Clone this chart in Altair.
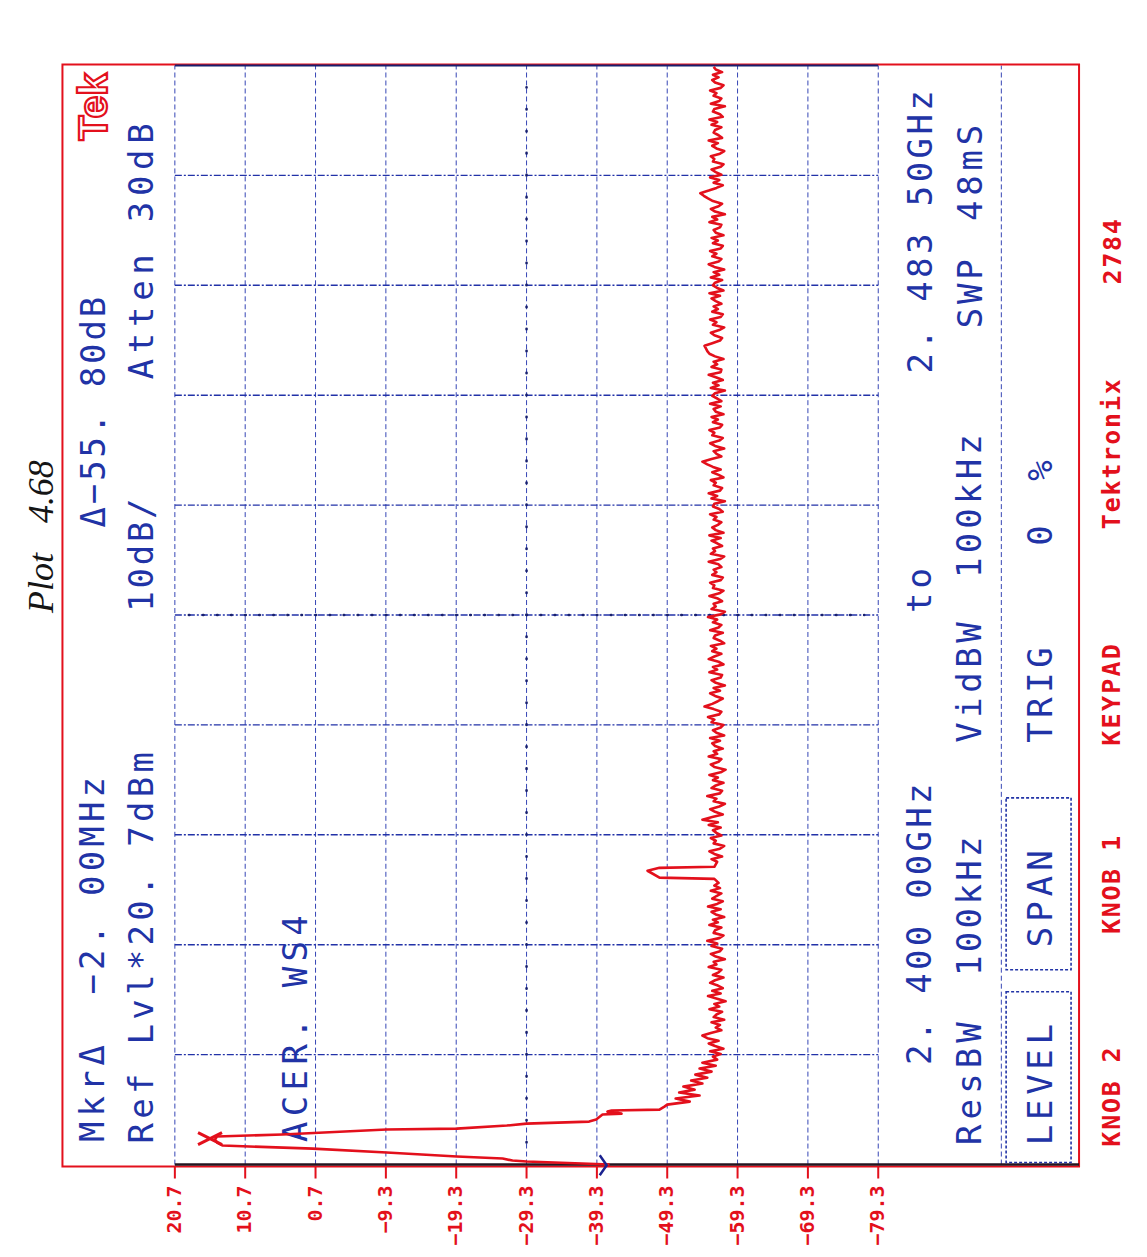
import altair as alt
import pandas as pd

# ---------------- data ----------------
DB_TICKS = [20.7, 10.7, 0.7, -9.3, -19.3, -29.3, -39.3, -49.3, -59.3, -69.3, -79.3]
FREQ_GRID = [2400.0, 2408.35, 2416.7, 2425.05, 2433.4, 2441.75, 2450.1, 2458.45, 2466.8, 2475.15, 2483.5]
SEPARATOR_DB = -96.8
CENTER_DB = -29.3
CENTER_FREQ = 2441.75

# carrier peak near 2.402 GHz (frequency MHz, level dBm)
PEAK_FREQ = [2400.00, 2400.23, 2400.30, 2400.46, 2400.61, 2400.91, 2401.21, 2401.44, 2401.67, 2401.90,
             2402.13, 2402.28, 2402.66, 2402.73, 2402.96, 2403.11, 2403.26, 2403.42, 2403.80, 2403.87,
             2404.02, 2404.10, 2404.17, 2404.40]
PEAK_DB = [-41.1, -29.3, -27.3, -25.9, -19.4, -9.4, 1.1, 13.9, 14.7, 15.0,
           14.7, 5.4, -9.4, -19.4, -26.5, -29.3, -38.2, -39.2, -40.1, -42.8,
           -40.8, -41.4, -48.2, -48.9]

# skirt settling into the noise floor
RAMP_FREQ = [2404.55, 2404.78, 2405.01, 2405.24, 2405.47, 2405.69, 2405.92, 2406.15,
             2406.38, 2406.60, 2406.83, 2407.06, 2407.29, 2407.51, 2407.74, 2407.97]
RAMP_DB = [-49.3, -52.5, -50.5, -53.9, -51.0, -53.2, -51.6, -54.3,
           -52.7, -55.0, -53.3, -55.6, -53.9, -56.2, -54.3, -56.4]

SWEEP_STEP = 0.2
NOISE_A_START = 2408.2
NOISE_A_DB = [-55.8, -56.9, -55.4, -57.3, -56.1, -55.2, -56.6, -55.0, -54.3, -55.5,
              -57.0, -56.2, -56.8, -55.6, -57.4, -55.9, -56.3, -57.1, -55.3, -56.7,
              -56.0, -57.6, -56.4, -55.1, -56.9, -55.7, -57.2, -56.5, -55.4, -56.1,
              -57.3, -55.8, -56.6, -57.0, -55.2, -56.3, -55.9, -57.5, -56.2, -55.5,
              -56.8, -57.1, -55.6, -56.4, -55.0, -56.7, -57.3, -55.9, -56.1, -57.0,
              -55.3, -56.5, -55.8, -57.4, -56.2, -55.6, -56.9, -55.1, -56.4, -57.2,
              -55.7, -56.3, -57.0, -55.5, -56.8, -56.0, -56.6]

# small spur near 2.422 GHz
SPIKE_FREQ = [2421.70, 2421.80, 2422.32, 2422.54, 2422.62]
SPIKE_DB = [-56.0, -48.2, -46.5, -48.2, -56.0]

NOISE_B_START = 2423.0
NOISE_B_DB = [-56.4, -55.6, -57.1, -56.0, -55.3, -56.8, -57.4, -55.9, -56.2, -55.5,
              -57.0, -56.3, -55.8, -56.9, -55.2, -56.5, -54.3, -55.7, -57.2, -56.1,
              -55.4, -56.7, -57.5, -55.9, -56.3, -55.0, -56.8, -57.1, -55.6, -56.2,
              -57.3, -55.8, -56.5, -55.3, -56.9, -57.6, -56.0, -55.5, -56.6, -57.0,
              -55.2, -56.4, -55.9, -57.2, -56.1, -55.7, -56.8, -55.4, -57.4, -56.3,
              -55.8, -56.9, -57.3, -55.6, -56.0, -55.1, -56.7, -57.0, -55.9, -54.6,
              -55.7, -56.5, -57.2, -56.1, -55.4, -56.8, -55.9, -57.5, -56.2, -55.6,
              -56.9, -57.1, -55.3, -56.4, -55.8, -57.3, -56.6, -55.2, -56.0, -57.0,
              -55.7, -56.3, -55.5, -57.4, -56.8, -55.9, -56.1, -57.2, -55.4, -56.6,
              -57.0, -55.8, -56.4, -55.1, -56.9, -57.5, -55.6, -56.2, -55.9, -57.1,
              -56.5, -55.3, -56.7, -57.3, -55.8, -56.0, -55.4, -56.9, -57.2, -55.7,
              -56.3, -55.9, -57.0, -56.6, -55.2, -56.8, -57.4, -55.5, -56.1, -55.8,
              -57.1, -56.4, -55.6, -56.9, -55.3, -57.3, -56.2, -55.7, -56.5, -57.0,
              -55.9, -56.3, -55.4, -57.2, -56.7, -55.8, -56.0, -57.5, -55.6, -56.4,
              -55.2, -56.8, -57.1, -55.9, -56.2, -55.5, -57.3, -56.6, -55.7, -56.9,
              -55.8, -55.0, -54.3, -55.6, -57.0, -56.3, -55.9, -57.4, -56.1, -55.4,
              -56.7, -57.2, -55.7, -56.0, -55.3, -56.8, -57.1, -55.8, -56.5, -55.6,
              -57.3, -56.2, -55.9, -56.9, -55.4, -57.0, -56.4, -55.7, -56.1, -57.5,
              -55.5, -56.6, -55.8, -57.2, -56.3, -55.2, -56.9, -57.0, -55.6, -56.4,
              -55.9, -57.3, -56.1, -55.3, -55.0, -54.8, -54.6, -55.7, -56.8, -57.1,
              -56.0, -55.5, -56.7, -57.4, -55.8, -56.3, -55.4, -56.9, -57.2, -55.7,
              -56.5, -55.9, -57.0, -56.2, -55.6, -56.8, -55.3, -57.3, -56.4, -55.8,
              -56.1, -57.1, -55.5, -56.7, -55.9, -57.4, -56.0, -55.2, -56.6, -57.0,
              -55.7, -56.3, -55.4, -56.9, -57.2, -55.8, -56.5, -55.6, -57.3, -56.2,
              -55.9, -56.8, -57.0, -55.3, -56.4, -55.7, -57.5, -56.1, -55.5, -56.6,
              -57.1, -55.8, -55.1, -54.5, -54.0, -55.2, -56.3, -57.2, -55.9, -56.7,
              -55.4, -57.0, -56.2, -55.6, -56.9, -57.3, -55.8, -56.0, -55.5, -56.8,
              -57.4, -56.3, -55.7, -56.5, -55.2, -57.1, -56.6, -55.9, -56.1, -57.0,
              -55.6, -56.4, -55.3, -57.2, -56.8, -55.8, -56.0, -57.5, -55.5, -56.7,
              -57.0, -55.9, -56.3, -55.4, -56.9, -57.3, -56.1, -55.7, -56.6, -55.8,
              -57.1, -56.2, -55.9]

MARKER_PEAK = (2401.97, 15.7)
MARKER_REF = (2399.95, -40.2)

# ---------------- layout / styles ----------------
RED = "#e3101c"
BLUE = "#2133a6"
NAVY = "#18206e"
OX, OY = 63, 64          # page position of plot-area origin
W, H = 1017, 1102

XS = alt.Scale(domain=[-107.85, 36.61], reverse=True, nice=False, zero=False)
YS = alt.Scale(domain=[2399.924, 2483.576], nice=False, zero=False)

# annotation strings: text, baseline x (page), start y (page), end y (page)
BLUE_TEXT = [
    ("MkrΔ", 104, 1145, 1043),
    ("−2. 00MHz", 104, 997, 775),
    ("Δ−55. 80dB", 105, 529, 295),
    ("Ref Lvl*20. 7dBm", 153, 1146, 750),
    ("10dB/", 153, 613, 497),
    ("Atten 30dB", 153, 382, 120),
    ("ACER. WS4", 307, 1145, 913),
    ("2. 400 00GHz", 932, 1067, 782),
    ("to", 932, 615, 566),
    ("2. 483 50GHz", 933, 375, 88),
    ("ResBW", 982, 1148, 1020),
    ("100kHz", 982, 978, 835),
    ("VidBW", 982, 745, 620),
    ("100kHz", 982, 580, 432),
    ("SWP", 983, 330, 257),
    ("48mS", 983, 223, 122),
    ("LEVEL", 1053, 1148, 1022),
    ("SPAN", 1053, 950, 848),
    ("TRIG", 1053, 745, 645),
    ("0", 1053, 548, 523),
    ("%", 1053, 483, 458),
]
RED_TEXT = [
    ("KNOB 2", 1121, 1148, 1047),
    ("KNOB 1", 1121, 935, 835),
    ("KEYPAD", 1121, 747, 643),
    ("Tektronix", 1121, 530, 378),
    ("2784", 1122, 285, 218),
]
BOXES = [(1007, 1072, 992, 1163), (1007, 1072, 798, 970)]


def char_rows(items):
    rows = []
    for text, bx, y0, y1 in items:
        adv = (y0 - y1) / len(text)
        for i, ch in enumerate(text):
            if ch == " ":
                continue
            rows.append({"ch": ch, "px": bx - OX, "py": y0 - (i + 0.5) * adv - OY})
    return pd.DataFrame(rows)


def tick_label(v):
    return f"{v:.1f}".replace("-", "−")


# ---------------- tables ----------------
noise_a_f = [NOISE_A_START + i * SWEEP_STEP for i in range(len(NOISE_A_DB))]
noise_b_f = [NOISE_B_START + i * SWEEP_STEP for i in range(len(NOISE_B_DB))]
trace_f = PEAK_FREQ + RAMP_FREQ + noise_a_f + SPIKE_FREQ + noise_b_f
trace_db = PEAK_DB + RAMP_DB + NOISE_A_DB + SPIKE_DB + NOISE_B_DB
trace_df = pd.DataFrame({"f": trace_f, "db": trace_db, "i": list(range(len(trace_f)))})

vgrid_df = pd.DataFrame({"db": DB_TICKS, "f0": FREQ_GRID[0], "f1": FREQ_GRID[-1]})
hgrid_df = pd.DataFrame({"f": FREQ_GRID[1:-1], "d0": DB_TICKS[0], "d1": DB_TICKS[-1]})
tick_df = pd.DataFrame({"db": DB_TICKS, "label": [tick_label(v) for v in DB_TICKS]})


def X(field):
    return alt.X(field, scale=XS, axis=None)


def Y(field):
    return alt.Y(field, scale=YS, axis=None)


vgrid = alt.Chart(vgrid_df).mark_rule(color="#3545b5", strokeWidth=1, strokeDash=[5, 3]).encode(
    x=X("db:Q"), y=Y("f0:Q"), y2="f1:Q")
hgrid = alt.Chart(hgrid_df).mark_rule(color="#2232a8", strokeWidth=1.4, strokeDash=[7, 2, 2, 2]).encode(
    x=X("d0:Q"), x2="d1:Q", y=Y("f:Q"))
sep = alt.Chart(pd.DataFrame({"db": [SEPARATOR_DB], "f0": [FREQ_GRID[0]], "f1": [FREQ_GRID[-1]]})).mark_rule(
    color="#3545b5", strokeWidth=1, strokeDash=[5, 3]).encode(
    x=X("db:Q"), y=Y("f0:Q"), y2="f1:Q")
top_line = alt.Chart(pd.DataFrame({"f": [FREQ_GRID[-1]], "d0": [DB_TICKS[0]], "d1": [DB_TICKS[-1]]})).mark_rule(
    color=NAVY, strokeWidth=2.2).encode(x=X("d0:Q"), x2="d1:Q", y=Y("f:Q"))
bottom_line = alt.Chart(pd.DataFrame({"f": [FREQ_GRID[0]], "d0": [DB_TICKS[0]], "d1": [-107.85]})).mark_rule(
    color="#241620", strokeWidth=2.4).encode(x=X("d0:Q"), x2="d1:Q", y=Y("f:Q"))
dots_v = alt.Chart(pd.DataFrame({"db": [CENTER_DB], "f0": [2401.67], "f1": [2481.84]})).mark_rule(
    color=NAVY, strokeWidth=2.6, strokeDash=[0.5, 21.5], strokeCap="round").encode(
    x=X("db:Q"), y=Y("f0:Q"), y2="f1:Q")
dots_h = alt.Chart(pd.DataFrame({"f": [CENTER_FREQ], "d0": [18.7], "d1": [-77.3]})).mark_rule(
    color=NAVY, strokeWidth=2.6, strokeDash=[0.5, 13.58], strokeCap="round").encode(
    x=X("d0:Q"), x2="d1:Q", y=Y("f:Q"))

ticks = alt.Chart(tick_df).mark_rule(color=RED, strokeWidth=2).encode(
    x=X("db:Q"), y=alt.value(H + 1), y2=alt.value(H + 13))
tick_labels = alt.Chart(tick_df).mark_text(
    angle=270, align="right", baseline="middle", font="DejaVu Sans Mono",
    fontSize=20, fontWeight="bold", color=RED).encode(
    x=X("db:Q"), y=alt.value(H + 20), text="label:N")

trace = alt.Chart(trace_df).mark_line(color=RED, strokeWidth=2.6, strokeJoin="round").encode(
    x=X("db:Q"), y=Y("f:Q"), order="i:Q")
peak_marker = alt.Chart(pd.DataFrame({"f": [MARKER_PEAK[0]], "db": [MARKER_PEAK[1]]})).mark_point(
    shape="M-1,-0.5L1,0.5M-1,0.5L1,-0.5", size=576, filled=False, color=RED, strokeWidth=3, opacity=1).encode(
    x=X("db:Q"), y=Y("f:Q"))
ref_marker = alt.Chart(pd.DataFrame({"f": [MARKER_REF[0]], "db": [MARKER_REF[1]]})).mark_point(
    shape="M-0.35,-1L0.35,0L-0.35,1", size=400, filled=False, color="#1a2290", strokeWidth=2.5, opacity=1).encode(
    x=X("db:Q"), y=Y("f:Q"))

blue_text = alt.Chart(char_rows(BLUE_TEXT)).mark_text(
    angle=270, align="center", baseline="alphabetic", font="DejaVu Sans Mono",
    fontSize=34, color=BLUE).encode(
    x=alt.X("px:Q", scale=None, axis=None),
    y=alt.Y("py:Q", scale=None, axis=None),
    text="ch:N")
red_text = alt.Chart(char_rows(RED_TEXT)).mark_text(
    angle=270, align="center", baseline="alphabetic", font="DejaVu Sans Mono",
    fontSize=25, fontWeight="bold", color=RED).encode(
    x=alt.X("px:Q", scale=None, axis=None),
    y=alt.Y("py:Q", scale=None, axis=None),
    text="ch:N")
boxes = alt.Chart(pd.DataFrame([{"x0": a - OX, "x1": b - OX, "y0": c - OY, "y1": d - OY} for a, b, c, d in BOXES])).mark_rect(
    fillOpacity=0, stroke=BLUE, strokeWidth=1.6, strokeDash=[3, 2]).encode(
    x=alt.X("x0:Q", scale=None, axis=None), x2="x1:Q",
    y=alt.Y("y0:Q", scale=None, axis=None), y2="y1:Q")
logo = alt.Chart(pd.DataFrame({"t": ["Tek"], "px": [107 - OX], "py": [140 - OY]})).mark_text(
    angle=270, align="left", baseline="alphabetic", font="Liberation Sans", fontWeight="bold",
    fontSize=41, fill="#ffffff", stroke=RED, strokeWidth=2.2).encode(
    x=alt.X("px:Q", scale=None, axis=None),
    y=alt.Y("py:Q", scale=None, axis=None),
    text="t:N")
note = alt.Chart(pd.DataFrame({"t": ["Plot", "4.68"], "px": [53 - OX, 53 - OX], "py": [613 - OY, 523 - OY]})).mark_text(
    angle=270, align="left", baseline="alphabetic", font="Liberation Serif", fontStyle="italic",
    fontSize=36, color="#151515").encode(
    x=alt.X("px:Q", scale=None, axis=None),
    y=alt.Y("py:Q", scale=None, axis=None),
    text="t:N")
border = alt.Chart(pd.DataFrame({"a": [0]})).mark_rect(
    fillOpacity=0, stroke=RED, strokeWidth=2).encode(
    x=alt.value(-0.5), x2=alt.value(W), y=alt.value(0), y2=alt.value(H + 1))

chart = alt.layer(
    vgrid, hgrid, sep, dots_v, dots_h, border, top_line, bottom_line, ticks, tick_labels,
    boxes, blue_text, red_text, logo, note, trace, peak_marker, ref_marker,
).properties(
    width=W, height=H,
    autosize=alt.AutoSizeParams(type="none"),
    padding={"left": OX - 8, "top": OY - 8, "right": 60, "bottom": 88},
    background="white",
).configure_view(strokeWidth=0)

chart.save("out.html", embed_options={"renderer": "svg", "actions": False})
